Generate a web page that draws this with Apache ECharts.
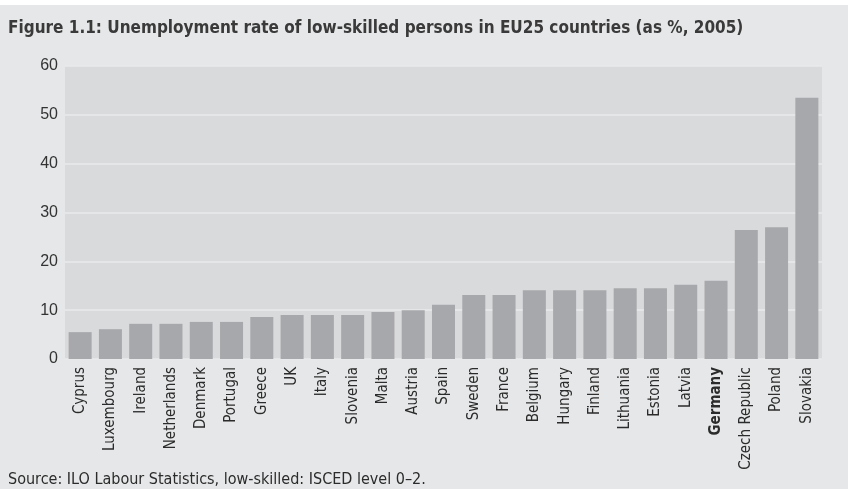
<!DOCTYPE html>
<html>
<head>
<meta charset="utf-8">
<script src="https://cdn.jsdelivr.net/npm/echarts@6/dist/echarts.min.js"></script>
<style>
  html, body { margin: 0; padding: 0; background: #e6e7e8; }
  #chart { width: 848px; height: 489px; }
</style>
</head>
<body>
<div id="chart"></div>
<script>
// data
const countries = ['Cyprus', 'Luxembourg', 'Ireland', 'Netherlands', 'Denmark', 'Portugal',
    'Greece', 'UK', 'Italy', 'Slovenia', 'Malta', 'Austria', 'Spain', 'Sweden', 'France',
    'Belgium', 'Hungary', 'Finland', 'Lithuania', 'Estonia', 'Latvia', 'Germany',
    'Czech Republic', 'Poland', 'Slovakia'];
const rates = [5.5, 6.1, 7.2, 7.2, 7.6, 7.6, 8.6, 9.0, 9.0, 9.0, 9.6, 10.0, 11.1, 13.1, 13.1,
    14.1, 14.1, 14.1, 14.5, 14.5, 15.2, 16.0, 26.4, 27.0, 53.5];
const highlighted = ['Germany'];

// condensed face for the texts, plain one for the value axis
const narrow = '"Liberation Sans Narrow", "DejaVu Sans Condensed", "Open Sans", sans-serif';

const chart = echarts.init(document.getElementById('chart'));

chart.setOption({
    backgroundColor: '#e6e7e8',
    animation: false,
    graphic: [{
        // thin white strip above the title band
        type: 'rect',
        shape: { x: 0, y: 0, width: 848, height: 5 },
        style: { fill: '#ffffff' }
    }, {
        type: 'text',
        left: 8,
        top: 472,
        style: {
            text: 'Source: ILO Labour Statistics, low-skilled: ISCED level 0\u20132.',
            font: '16px ' + narrow,
            fill: '#2b2b2b'
        }
    }],
    title: {
        text: 'Figure 1.1: Unemployment rate of low-skilled persons in EU25 countries (as %, 2005)',
        left: 3,
        top: 15,
        textStyle: {
            fontFamily: narrow,
            fontSize: 17,
            fontWeight: 'bold',
            color: '#3a3a3a'
        }
    },
    grid: {
        left: 65,
        right: 26,
        top: 66,
        bottom: 130,
        show: true,
        backgroundColor: '#d9dadc',
        borderWidth: 0
    },
    xAxis: {
        type: 'category',
        data: countries,
        axisLine: { show: false },
        axisTick: { show: false },
        axisLabel: {
            rotate: 90,
            interval: 0,
            margin: 8,
            fontFamily: narrow,
            fontSize: 15,
            color: '#2b2b2b',
            formatter: function (v) {
                return highlighted.indexOf(v) >= 0 ? '{b|' + v + '}' : v;
            },
            rich: {
                b: { fontFamily: narrow, fontSize: 15, fontWeight: 'bold', color: '#2b2b2b' }
            }
        }
    },
    yAxis: {
        type: 'value',
        min: 0,
        max: 60,
        interval: 10,
        axisLine: { show: false },
        axisTick: { show: false },
        axisLabel: {
            margin: 7,
            fontFamily: 'Liberation Sans',
            fontSize: 16,
            color: '#333333'
        },
        splitLine: { lineStyle: { color: '#e9eaeb', width: 1.5 } }
    },
    series: [{
        type: 'bar',
        data: rates,
        barCategoryGap: '24%',
        itemStyle: { color: '#a7a8ab' }
    }]
});
</script>
</body>
</html>
